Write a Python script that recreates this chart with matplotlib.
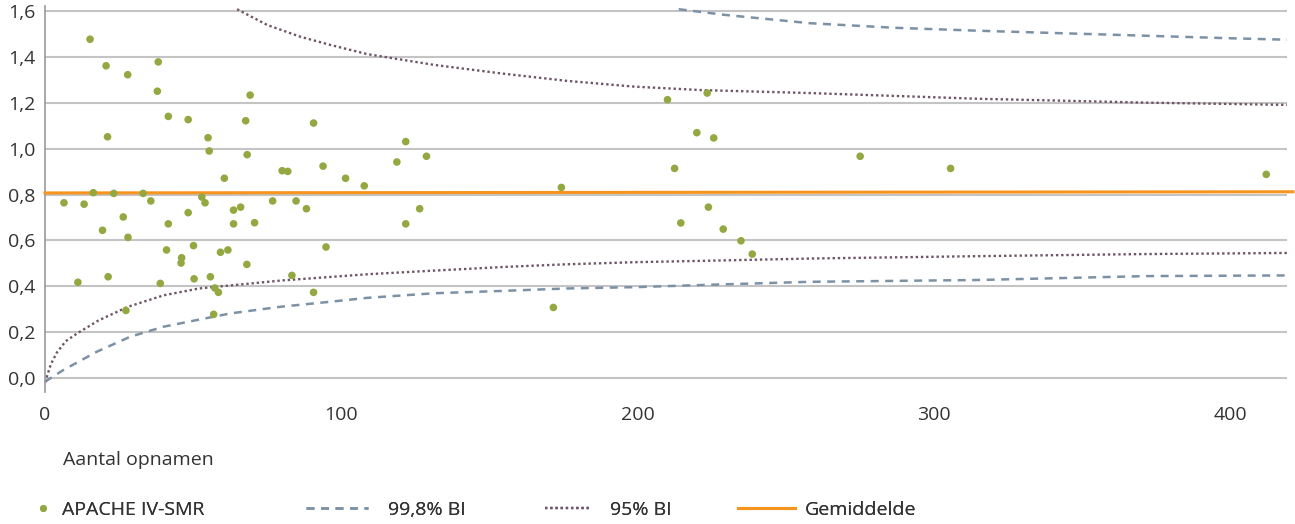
import matplotlib
matplotlib.use("Agg")
import matplotlib.pyplot as plt
from matplotlib.lines import Line2D
from matplotlib.ticker import FuncFormatter

plt.rcParams['font.family'] = ['Open Sans', 'DejaVu Sans']

# Scatter data: APACHE IV-SMR per hospital
opnamen = [6.4, 11.1, 13.2, 15.2, 16.3, 19.4, 20.6, 21.1, 21.3, 23.2, 26.4, 27.3, 27.9, 28.0,
           33.1, 35.7, 38.2, 37.9, 38.9, 41.0, 41.6, 41.6, 46.1, 45.9, 48.3, 48.3, 50.1, 50.3,
           52.9, 54.0, 55.0, 55.4, 55.8, 56.9, 57.3, 58.5, 59.2, 60.5, 61.7, 63.6, 63.6, 66.0,
           67.7, 68.2, 68.1, 69.2, 70.7, 76.8, 80.0, 81.9, 83.3, 84.7, 88.2, 90.6, 90.6, 93.8,
           94.8, 101.4, 107.7, 118.7, 121.7, 121.7, 126.4, 128.7, 171.5, 174.2, 210.0, 212.4,
           214.5, 219.9, 223.4, 223.8, 225.6, 228.8, 234.8, 238.6, 275.0, 305.5, 412.0]
smr = [0.764, 0.417, 0.758, 1.478, 0.808, 0.644, 1.362, 1.052, 0.441, 0.805, 0.702, 0.294, 1.323, 0.613,
       0.805, 0.772, 1.379, 1.251, 0.412, 0.558, 1.141, 0.672, 0.524, 0.501, 1.127, 0.721, 0.577, 0.432,
       0.789, 0.764, 1.048, 0.990, 0.441, 0.277, 0.392, 0.373, 0.548, 0.871, 0.558, 0.732, 0.672, 0.745,
       1.122, 0.974, 0.495, 1.234, 0.677, 0.772, 0.904, 0.901, 0.447, 0.772, 0.738, 1.112, 0.373, 0.924,
       0.571, 0.871, 0.838, 0.942, 1.031, 0.672, 0.738, 0.967, 0.307, 0.831, 1.214, 0.914,
       0.676, 1.070, 1.243, 0.745, 1.047, 0.649, 0.598, 0.540, 0.967, 0.914, 0.888]

# 95% BI
bi95_up_x = [64.8, 75, 86.1, 96.3, 108.7, 131.2, 153.7, 176.2, 198.8, 221.3, 258, 315, 372, 421]
bi95_up_y = [1.609, 1.54, 1.489, 1.453, 1.413, 1.366, 1.329, 1.296, 1.271, 1.256, 1.243, 1.218, 1.201, 1.191]
bi95_lo_x = [0, 2, 4, 7, 11, 18, 28, 40, 52, 64, 80, 96, 110, 130, 155, 175, 200, 220, 260, 315, 370, 420]
bi95_lo_y = [-0.02, 0.06, 0.11, 0.16, 0.195, 0.25, 0.31, 0.36, 0.39, 0.405, 0.425, 0.44, 0.453, 0.467,
             0.484, 0.495, 0.505, 0.51, 0.521, 0.531, 0.540, 0.545]

# 99,8% BI
bi998_up_x = [213.8, 229.5, 258, 286.4, 314.9, 343.4, 371.9, 400.3, 421.6]
bi998_up_y = [1.609, 1.584, 1.548, 1.528, 1.515, 1.504, 1.493, 1.482, 1.475]
bi998_lo_x = [0, 6.2, 17.5, 28.7, 40, 51.2, 62.5, 79.4, 96.3, 108.7, 131.2, 153.7, 176.2, 200, 221.3,
              258, 315, 372, 421]
bi998_lo_y = [-0.017, 0.034, 0.114, 0.179, 0.223, 0.252, 0.281, 0.310, 0.332, 0.349, 0.369, 0.379,
              0.390, 0.396, 0.405, 0.419, 0.427, 0.444, 0.447]

# Gemiddelde
gem_x = [0, 421]
gem_y = [0.807, 0.812]

yticks = [0.0, 0.2, 0.4, 0.6, 0.8, 1.0, 1.2, 1.4, 1.6]
xticks = [0, 100, 200, 300, 400]

c_pt = '#94a842'
c_95 = '#6e5566'
c_998 = '#7b92a6'
c_gem = '#f7941d'
c_grid = '#c4c4c4'
c_txt = '#333333'

ls_998 = (0, (3.2, 2.6))
ls_95 = (0, (1, 1.2))

fig = plt.figure(figsize=(12.95, 5.24), dpi=100)
ax = fig.add_axes([45/1295, 1-392/524, (1287-45)/1295, (392-6)/524])

for yt in yticks:
    ax.axhline(yt, color=c_grid, lw=1.5, zorder=1)

ax.plot(bi998_up_x, bi998_up_y, color=c_998, lw=1.8, ls=ls_998, zorder=2)
ax.plot(bi998_lo_x, bi998_lo_y, color=c_998, lw=1.8, ls=ls_998, zorder=2)
ax.plot(bi95_up_x, bi95_up_y, color=c_95, lw=1.7, ls=ls_95, zorder=2)
ax.plot(bi95_lo_x, bi95_lo_y, color=c_95, lw=1.7, ls=ls_95, zorder=2)
ax.plot(gem_x, gem_y, color=c_gem, lw=2.2, zorder=3, clip_on=False)
ax.scatter(opnamen, smr, s=30, color=c_pt, edgecolors='none', zorder=4)

ax.set_xlim(0, 419)
ax.set_ylim(-0.062, 1.623)
ax.set_yticks(yticks)
ax.set_xticks(xticks)
ax.yaxis.set_major_formatter(FuncFormatter(lambda v, p: f"{v:.1f}".replace('.', ',')))
ax.tick_params(axis='y', length=0, pad=7, labelsize=14, labelcolor=c_txt)
ax.tick_params(axis='x', length=0, pad=10, labelsize=14, labelcolor=c_txt)
for s in ['top', 'right', 'bottom']:
    ax.spines[s].set_visible(False)
ax.spines['left'].set_color('#999999')
ax.spines['left'].set_linewidth(1.2)

fig.text(63/1295, 1-460/524, 'Aantal opnamen', fontsize=14, color=c_txt, va='center', ha='left')

# Legend: one entry per legend so each has its own position / handle length
entries = [
    (Line2D([], [], ls='none', marker='o', markersize=5, color=c_pt, markeredgewidth=0),
     'APACHE IV-SMR', 38, 0.55, 0.7),
    (Line2D([], [], color=c_998, lw=1.8, ls=ls_998), '99,8% BI', 306, 3.2, 1.0),
    (Line2D([], [], color=c_95, lw=1.7, ls=ls_95), '95% BI', 545, 2.35, 1.0),
    (Line2D([], [], color=c_gem, lw=2.2), 'Gemiddelde', 738, 2.95, 0.5),
]
for h, lab, xpx, hl, tp in entries:
    lg = fig.legend([h], [lab], loc='center left', bbox_to_anchor=(xpx/1295, 1-510/524),
                    frameon=False, fontsize=14, handlelength=hl, handletextpad=tp,
                    borderpad=0, borderaxespad=0, labelcolor=c_txt)
    fig.add_artist(lg)

fig.savefig('out.png', dpi=100)
